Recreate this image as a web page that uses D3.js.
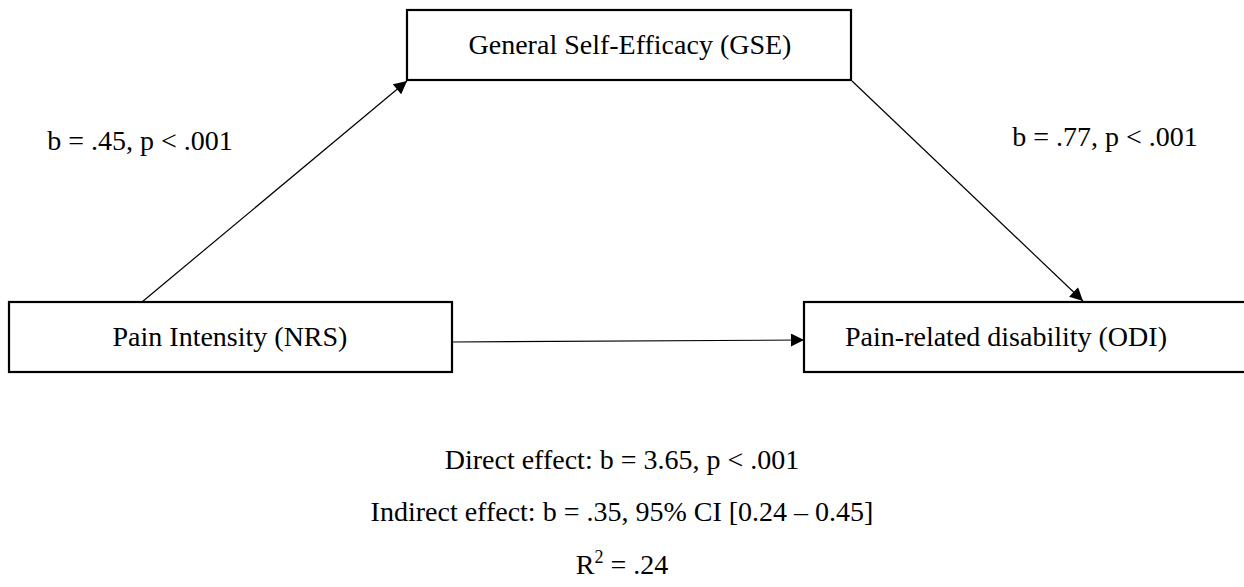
<!DOCTYPE html>
<html>
<head>
<meta charset="utf-8">
<script src="https://cdn.jsdelivr.net/npm/d3@7"></script>
<style>
  html, body { margin: 0; padding: 0; background: #fff; }
  svg { display: block; }
  text { font-family: "Liberation Serif", "Times New Roman", serif; fill: #000; }
</style>
</head>
<body>
<div id="chart"></div>
<script>
// ---- data ----
const nodeLabels = ["Pain Intensity (NRS)", "General Self-Efficacy (GSE)", "Pain-related disability (ODI)"];
const pathLabels = ["b = .45, p < .001", "b = .77, p < .001"];
const effectLabels = ["Direct effect: b = 3.65, p < .001", "Indirect effect: b = .35, 95% CI [0.24 \u2013 0.45]"];
const rSquared = ".24";

// ---- layout ----
const W = 1244, H = 587;
const boxes = [
  { x0: 9, y0: 302, x1: 452, y1: 372, tx: 230 },
  { x0: 407, y0: 10, x1: 851, y1: 80, tx: 630 },
  { x0: 804, y0: 302, x1: 1250, y1: 372, tx: 1006 }
];
const arrows = [
  { x1: 142, y1: 302, x2: 407, y2: 81 },
  { x1: 852, y1: 81, x2: 1083, y2: 301 },
  { x1: 452, y1: 342, x2: 804, y2: 340 }
];
const pathPos = [{ x: 140, y: 150 }, { x: 1105, y: 146 }];
const effY = [469, 521, 574];
const cx = 622;
const fs = 28;

const svg = d3.select("#chart").append("svg").attr("width", W).attr("height", H);

svg.append("defs").append("marker")
  .attr("id", "arr").attr("viewBox", "0 0 10 10")
  .attr("refX", 10).attr("refY", 5)
  .attr("markerWidth", 15).attr("markerHeight", 13)
  .attr("markerUnits", "userSpaceOnUse")
  .attr("orient", "auto")
  .append("path").attr("d", "M0,0 L10,5 L0,10 Z").attr("fill", "#000");

svg.selectAll("line.arrow").data(arrows).join("line")
  .attr("class", "arrow")
  .attr("x1", d => d.x1).attr("y1", d => d.y1)
  .attr("x2", d => d.x2).attr("y2", d => d.y2)
  .attr("stroke", "#000").attr("stroke-width", 1.2)
  .attr("marker-end", "url(#arr)");

svg.selectAll("rect.box").data(boxes).join("rect")
  .attr("class", "box")
  .attr("x", d => d.x0).attr("y", d => d.y0)
  .attr("width", d => d.x1 - d.x0).attr("height", d => d.y1 - d.y0)
  .attr("fill", "none").attr("stroke", "#000").attr("stroke-width", 2.2);

svg.selectAll("text.node").data(nodeLabels).join("text")
  .attr("class", "node")
  .attr("x", (d, i) => boxes[i].tx)
  .attr("y", (d, i) => (boxes[i].y0 + boxes[i].y1) / 2 + 9)
  .attr("text-anchor", "middle").attr("font-size", fs)
  .text(d => d);

svg.selectAll("text.path").data(pathLabels).join("text")
  .attr("class", "path")
  .attr("x", (d, i) => pathPos[i].x).attr("y", (d, i) => pathPos[i].y)
  .attr("text-anchor", "middle").attr("font-size", fs)
  .text(d => d);

svg.selectAll("text.eff").data(effectLabels).join("text")
  .attr("class", "eff")
  .attr("x", cx).attr("y", (d, i) => effY[i])
  .attr("text-anchor", "middle").attr("font-size", fs)
  .text(d => d);

const r2 = svg.append("text").attr("x", cx).attr("y", effY[2])
  .attr("text-anchor", "middle").attr("font-size", fs);
r2.append("tspan").text("R");
r2.append("tspan").attr("dy", -11).attr("font-size", 18).text("2");
r2.append("tspan").attr("dy", 11).text(" = " + rSquared);
</script>
</body>
</html>
